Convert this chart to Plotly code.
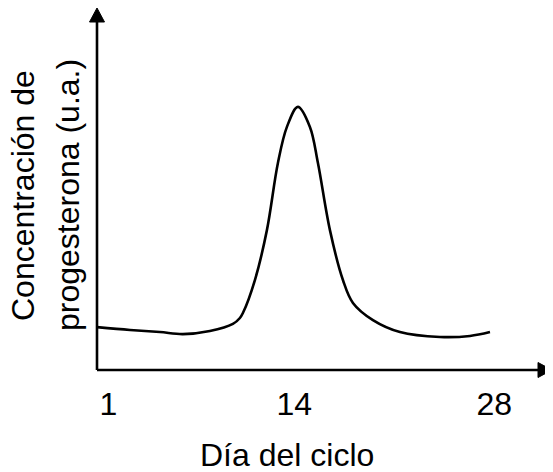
import plotly.graph_objects as go

# Data (day of cycle, arbitrary units)
dias = [0.2, 2.51, 4.6, 6.21, 8.1, 9.71, 10.2, 10.41, 11.25, 12.09, 12.86, 13.49,
        14.26, 15.1, 15.66, 16.5, 17.41, 18.11, 19.51, 21.4, 24.2, 26.3, 27.7]
progesterona = [16.5, 15.4, 14.6, 13.8, 15.0, 17.7, 20.0, 21.9, 34.6, 53.8, 79.6,
                93.5, 101.2, 93.5, 79.6, 53.8, 34.6, 25.8, 19.2, 14.6, 12.7, 13.1,
                14.6]
tick_dias = [1, 14, 28]
tick_text = ["1", "14", "28"]

# page has an 8px body margin, so the figure is 8px smaller each way
W, H = 545, 464
ML, MR, MT, MB = 89, 1, 0, 102
PW = W - ML - MR
PH = H - MT - MB
OFF = 8
FONT = "Liberation Sans, Arial, sans-serif"
FS = 32

fig = go.Figure()
fig.add_trace(go.Scatter(
    x=dias, y=progesterona, mode="lines",
    line=dict(color="black", width=2.6, shape="spline", smoothing=1.0),
    hoverinfo="skip", showlegend=False,
))

ah_len, ah_half = 14, 7.5
shapes = [
    dict(type="line", xref="paper", yref="paper", x0=0, y0=0, x1=0,
         y1=1 - ah_len / PH, line=dict(color="black", width=2.6)),
    dict(type="line", xref="paper", yref="paper", x0=0, y0=0,
         x1=1 - ah_len / PW, y1=0, line=dict(color="black", width=2.6)),
    dict(type="path", xref="paper", yref="paper",
         path=f"M {-ah_half/PW} {1-ah_len/PH} L {ah_half/PW} {1-ah_len/PH} L 0 1 Z",
         fillcolor="black", line=dict(color="black", width=1)),
    dict(type="path", xref="paper", yref="paper",
         path=f"M {1-ah_len/PW} {-ah_half/PH} L {1-ah_len/PW} {ah_half/PH} L 1 0 Z",
         fillcolor="black", line=dict(color="black", width=1)),
]

def fx(px):
    return px - OFF

def fy(py):
    return py - OFF

base_y = H - MB
annotations = [
    dict(text="Día del ciclo", xref="paper", yref="paper", x=(fx(287) - ML) / PW, y=0,
         yshift=-(fy(455) - base_y), showarrow=False, xanchor="center", yanchor="middle",
         font=dict(family=FONT, size=FS, color="black")),
    dict(text="Concentración de", xref="paper", yref="paper", x=0,
         y=(base_y - fy(196)) / PH,
         xshift=fx(23) - ML, showarrow=False, textangle=-90, xanchor="center",
         yanchor="middle", font=dict(family=FONT, size=FS, color="black")),
    dict(text="progesterona (u.a.)", xref="paper", yref="paper", x=0,
         y=(base_y - fy(195)) / PH,
         xshift=fx(68) - ML, showarrow=False, textangle=-90, xanchor="center",
         yanchor="middle", font=dict(family=FONT, size=FS, color="black")),
]

fig.update_layout(
    width=W, height=H,
    margin=dict(l=ML, r=MR, t=MT, b=MB),
    plot_bgcolor="white", paper_bgcolor="white",
    shapes=shapes, annotations=annotations,
    xaxis=dict(range=[0.2, 32.04], tickvals=tick_dias, ticktext=tick_text,
               showgrid=False, zeroline=False, showline=False, ticks="",
               ticklabelstandoff=12,
               tickfont=dict(family=FONT, size=FS, color="black")),
    yaxis=dict(range=[0, 140 * (PH / 364)], showgrid=False, zeroline=False,
               showline=False, showticklabels=False, ticks=""),
)

fig.write_html("out.html")
